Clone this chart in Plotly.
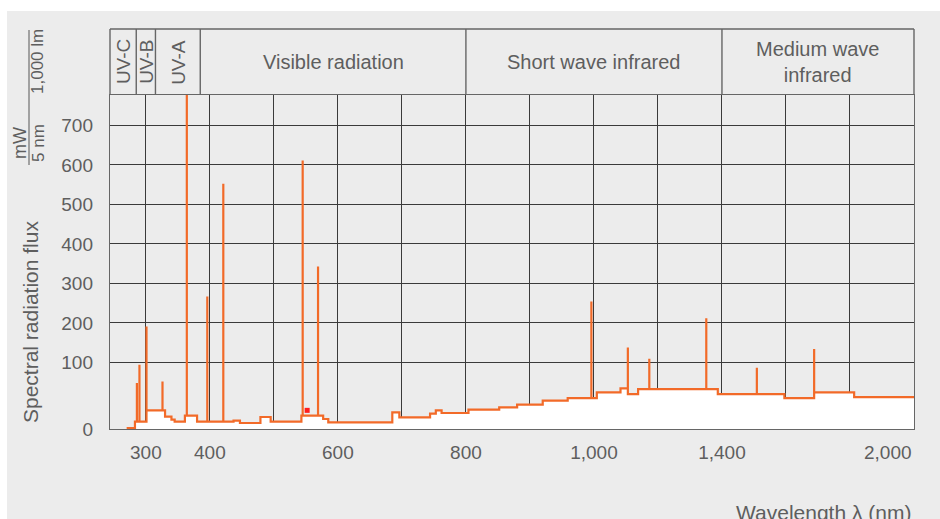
import plotly.graph_objects as go

# Continuum of the lamp spectrum: wavelength (nm) where the level changes, and the new level
step_nm = [270, 283, 301, 330, 340, 345, 361, 380, 437, 447, 479, 495, 543, 577, 585,
           685, 696, 744, 753, 762, 804, 852, 880, 920, 959, 1009, 1083, 1106, 1138,
           1387, 1595, 1688, 1813]
step_level = [1.5, 11, 28, 18.5, 14, 11, 20, 11, 12.5, 9, 18, 11, 20, 15, 10,
              25, 17.5, 23, 28, 24, 29, 32.5, 36.5, 42.5, 46.5, 55, 61, 52.5, 60,
              52.5, 46.5, 55, 48]
end_nm = 2000

# Emission lines: wavelength (nm) and peak flux
line_nm = [286, 290, 301, 326, 364, 396, 421, 545, 569, 996, 1106, 1173, 1351, 1509, 1688]
line_peak = [69, 96.5, 191, 71.5, 800, 267, 552, 611, 343, 254, 138, 109, 212, 92, 134]

# Single marked point
dot_nm = [552]
dot_val = [28]

# Wavelength grid and labelled ticks (the last label sits inside the frame)
grid_nm = [300, 400, 500, 600, 700, 800, 900, 1000, 1200, 1400, 1600, 1800, 2000]
tick_labels = {300: "300", 400: "400", 600: "600", 800: "800",
               1000: "1,000", 1400: "1,400"}
end_label = "2,000"
flux_ticks = [0, 100, 200, 300, 400, 500, 600, 700]

# Spectral bands across the top
band_edges_nm = [244, 285, 315, 385, 800, 1400, 2000]
band_names = ["UV-C", "UV-B", "UV-A", "Visible radiation",
              "Short wave infrared", "Medium wave<br>infrared"]
band_rotated = [True, True, True, False, False, False]

X_MIN_NM = 244
FLUX_TOP = 777


def xu(w):
    """Axis coordinate: 100 nm per cell up to 1000 nm, 200 nm per cell above."""
    return w if w <= 1000 else 1000 + (w - 1000) / 2


def yv(v):
    """Axis coordinate: the 0-100 band is stretched relative to the rest."""
    return v * 1.686 if v <= 100 else 168.6 + (v - 100)


# Build the spectrum polyline from the steps and the emission lines
events = [(w, 1, lv) for w, lv in zip(step_nm, step_level)]
events += [(w, 0, pk) for w, pk in zip(line_nm, line_peak)]
events.sort(key=lambda e: (e[0], e[1]))
xs, ys = [], []
level = None
for w, kind, val in events:
    if kind == 1:
        if level is not None:
            xs.append(w); ys.append(level)
        level = val
        xs.append(w); ys.append(level)
    else:
        xs += [w, w, w]; ys += [level, val, level]
xs.append(end_nm); ys.append(level)

ORANGE = "#f26a28"
TXT = "#5e5e5e"
GRID = "#3a3a3a"
FRAME = "#666666"
FONT = "Liberation Sans"

fig = go.Figure()
fig.add_trace(go.Scatter(
    x=[xu(w) for w in xs], y=[yv(v) for v in ys], mode="lines",
    line=dict(color=ORANGE, width=2.2), fill="tozeroy", fillcolor="white",
    hoverinfo="skip", showlegend=False))
fig.add_trace(go.Scatter(
    x=[xu(w) for w in dot_nm], y=[yv(v) for v in dot_val], mode="markers",
    marker=dict(color="#ff1f1f", size=5, symbol="square"),
    hoverinfo="skip", showlegend=False))

L, R, T, B = 110, 26, 95, 90
W, H = 940, 519
pw, ph = W - L - R, H - T - B


def px(xp):
    return (xp - L) / pw


def py(yp):
    return (H - B - yp) / ph


head_top = py(29)
shapes = [
    # page margins outside the grey panel
    dict(type="rect", xref="paper", yref="paper", x0=px(-5), x1=px(W + 5),
         y0=py(11), y1=py(-5), fillcolor="white", line_width=0, layer="below"),
    dict(type="rect", xref="paper", yref="paper", x0=px(-5), x1=px(7),
         y0=py(H + 5), y1=py(-5), fillcolor="white", line_width=0, layer="below"),
    # header box
    dict(type="line", xref="paper", yref="paper", x0=0, x1=1, y0=head_top, y1=head_top,
         line=dict(color=FRAME, width=1.4)),
    dict(type="line", xref="paper", yref="paper", x0=0, x1=0, y0=1, y1=head_top,
         line=dict(color=FRAME, width=1.4)),
    dict(type="line", xref="paper", yref="paper", x0=1, x1=1, y0=1, y1=head_top,
         line=dict(color=FRAME, width=1.4)),
    # unit fraction bar
    dict(type="line", xref="paper", yref="paper", x0=px(29), x1=px(29),
         y0=py(165), y1=py(30), line=dict(color="#707070", width=1.2)),
]
for e in band_edges_nm[1:-1]:
    shapes.append(dict(type="line", xref="x", yref="paper", x0=xu(e), x1=xu(e),
                       y0=1, y1=head_top, line=dict(color=FRAME, width=1.4)))

annotations = []
mid_y = (1 + head_top) / 2
for i, name in enumerate(band_names):
    xm = (xu(band_edges_nm[i]) + xu(band_edges_nm[i + 1])) / 2
    annotations.append(dict(
        x=xm, y=mid_y, xref="x", yref="paper", text=name, showarrow=False,
        textangle=-90 if band_rotated[i] else 0,
        font=dict(family=FONT, size=19 if band_rotated[i] else 20, color=TXT),
        xanchor="center", yanchor="middle"))

annotations += [
    dict(x=xu(end_nm), y=py(452), xref="x", yref="paper", text=end_label,
         showarrow=False, font=dict(family=FONT, size=19, color=TXT),
         xanchor="right", yanchor="middle"),
    dict(x=px(30), y=py(322), xref="paper", yref="paper", text="Spectral radiation flux",
         textangle=-90, showarrow=False, font=dict(family=FONT, size=21, color=TXT),
         xanchor="center", yanchor="middle"),
    dict(x=px(20), y=py(143), xref="paper", yref="paper", text="mW",
         textangle=-90, showarrow=False, font=dict(family=FONT, size=18, color=TXT),
         xanchor="center", yanchor="middle"),
    dict(x=px(38), y=py(143), xref="paper", yref="paper", text="5 nm",
         textangle=-90, showarrow=False, font=dict(family=FONT, size=17, color=TXT),
         xanchor="center", yanchor="middle"),
    dict(x=px(38), y=py(62), xref="paper", yref="paper", text="1,000 lm",
         textangle=-90, showarrow=False, font=dict(family=FONT, size=17, color=TXT),
         xanchor="center", yanchor="middle"),
    dict(x=px(913), y=py(512), xref="paper", yref="paper", text="Wavelength λ (nm)",
         showarrow=False, font=dict(family=FONT, size=21, color=TXT),
         xanchor="right", yanchor="middle"),
]

fig.update_layout(
    width=W, height=H, margin=dict(l=L, r=R, t=T, b=B, pad=0, autoexpand=False),
    paper_bgcolor="#ececec", plot_bgcolor="#ececec",
    shapes=shapes, annotations=annotations, showlegend=False,
    xaxis=dict(range=[xu(X_MIN_NM), xu(end_nm)], tickmode="array",
               tickvals=[xu(w) for w in grid_nm],
               ticktext=[tick_labels.get(w, "") for w in grid_nm],
               showgrid=True, gridcolor=GRID, gridwidth=1.4, zeroline=False,
               showline=True, linecolor=FRAME, linewidth=1.4, mirror=True,
               ticks="", ticklabelstandoff=6, automargin=False,
               tickfont=dict(family=FONT, size=19, color=TXT), fixedrange=True),
    yaxis=dict(range=[0, yv(FLUX_TOP)], tickmode="array",
               tickvals=[yv(v) for v in flux_ticks],
               ticktext=[str(v) for v in flux_ticks],
               showgrid=True, gridcolor=GRID, gridwidth=1.4, zeroline=False,
               showline=True, linecolor=FRAME, linewidth=1.4, mirror=True,
               ticks="", ticklabelstandoff=12, automargin=False,
               tickfont=dict(family=FONT, size=19, color=TXT), fixedrange=True),
)

fig.write_html("out.html")
